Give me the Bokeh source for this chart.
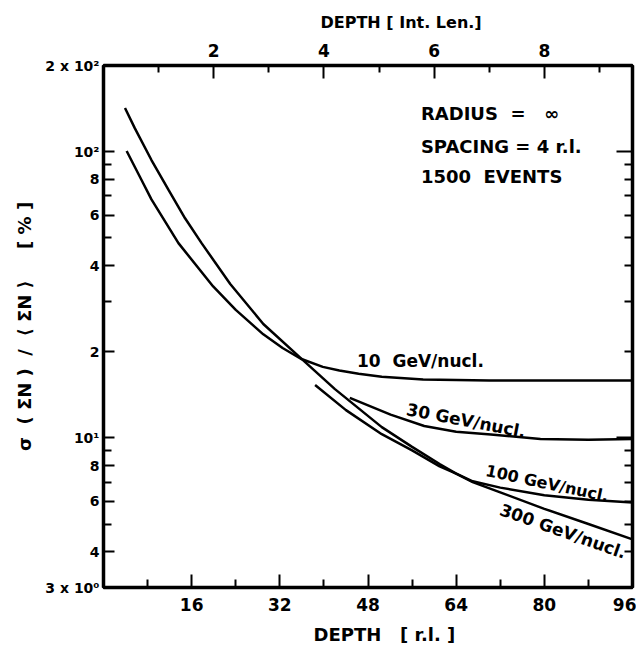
from bokeh.plotting import figure
from bokeh.models import Range1d, LogAxis, LinearAxis, FixedTicker, Label, Title
from bokeh.embed import file_html
from bokeh.resources import INLINE

# ---- data ----
depth_10 = [4.2, 6.9, 8.7, 13.6, 19.9, 24, 29, 32.5, 35.8, 39.8, 42.8, 46.3, 50.5, 58, 70, 96]
sigma_10 = [100.5, 79.6, 68.1, 47.9, 33.8, 28.0, 23.0, 20.6, 18.9, 17.7, 17.2, 16.75, 16.35, 16.0, 15.85, 15.85]

depth_30 = [44.7, 52.1, 58.2, 64, 70.3, 79.3, 88, 96]
sigma_30 = [13.8, 12.06, 11.0, 10.5, 10.27, 9.9, 9.85, 9.9]

depth_100 = [38.4, 44, 50.5, 56, 61, 64, 67, 72, 80, 88, 96]
sigma_100 = [15.3, 12.5, 10.3, 9.04, 7.95, 7.5, 7.05, 6.7, 6.3, 6.08, 5.94]

depth_300 = [3.9, 5.7, 8.7, 11.8, 14.8, 17.8, 23, 29, 35.8, 42, 50.5, 56, 61, 64, 67, 72, 80, 88, 96]
sigma_300 = [142, 120.6, 93.5, 73.5, 58.5, 47.9, 34.5, 25.0, 19.0, 14.8, 10.9, 9.3, 8.1, 7.5, 7.0, 6.45, 5.65, 5.0, 4.42]

x_ticks = [16, 32, 48, 64, 80, 96]
x_minor = [8, 24, 40, 56, 72, 88]
il_ticks = [2, 4, 6, 8]
il_minor = [1, 3, 5, 7, 9]
y_ticks = [3, 4, 6, 8, 10, 20, 40, 60, 80, 100, 200]
y_minor = [5, 7, 9, 30, 50, 70, 90]
y_labels = {3: "3 x 10⁰", 4: "4", 6: "6", 8: "8", 10: "10¹", 20: "2",
            40: "4", 60: "6", 80: "8", 100: "10²", 200: "2 x 10²"}

FONT = "DejaVu Sans"
S = "\u00a0"

p = figure(width=636, height=652, x_range=Range1d(0, 96), y_range=Range1d(3, 200),
           y_axis_type="log", output_backend="svg", toolbar_location=None,
           min_border_left=103, min_border_top=65, min_border_bottom=64, min_border_right=4)
p.xgrid.visible = False
p.ygrid.visible = False
p.outline_line_color = "black"
p.outline_line_width = 3
p.background_fill_color = "white"
p.border_fill_color = "white"

def style_axis(ax, size="17px"):
    ax.axis_line_width = 3.5
    ax.axis_line_color = "black"
    ax.major_tick_out = 0
    ax.minor_tick_out = 0
    ax.major_tick_line_width = 2
    ax.minor_tick_line_width = 2
    ax.major_label_text_font = FONT
    ax.major_label_text_font_style = "bold"
    ax.major_label_text_font_size = size
    ax.major_label_text_color = "black"

xa = p.xaxis[0]
xa.ticker = FixedTicker(ticks=x_ticks, minor_ticks=x_minor)
style_axis(xa)
xa.major_tick_in = 13
xa.minor_tick_in = 8
xa.major_label_standoff = 10

ya = p.yaxis[0]
ya.ticker = FixedTicker(ticks=y_ticks, minor_ticks=y_minor)
ya.major_label_overrides = y_labels
style_axis(ya, "14px")
ya.major_tick_in = 11
ya.minor_tick_in = 8
ya.major_label_standoff = 4
ya.axis_label = f"σ{S}{S}({S}ΣN{S}){S}{S}/{S}{S}⟨{S}ΣN{S}⟩{S}{S}{S}{S}{S}[{S}%{S}]"
ya.axis_label_text_font = FONT
ya.axis_label_text_font_style = "bold"
ya.axis_label_text_font_size = "18px"
ya.axis_label_text_color = "black"
ya.axis_label_standoff = 7

p.extra_x_ranges = {"il": Range1d(0, 9.6)}
top = LinearAxis(x_range_name="il", ticker=FixedTicker(ticks=il_ticks, minor_ticks=il_minor))
style_axis(top)
top.major_tick_in = 13
top.minor_tick_in = 7
top.major_label_standoff = 9
p.add_layout(top, "above")

right = LogAxis(ticker=FixedTicker(ticks=[10, 100], minor_ticks=[3, 4, 5, 6, 7, 8, 9, 20, 30, 40, 50, 60, 70, 80, 90, 200]))
style_axis(right, "1px")
right.major_label_overrides = {10: "", 100: ""}
right.major_tick_in = 16
right.minor_tick_in = 8
right.major_label_standoff = 0
p.add_layout(right, "right")

p.add_layout(Title(text="DEPTH [ Int. Len.]", align="left", offset=217, text_font=FONT,
                   text_font_style="bold", text_font_size="16px", text_color="black",
                   standoff=17), "above")
p.add_layout(Title(text=f"DEPTH{S}{S}{S}[{S}r.l.{S}]", align="left", offset=210, text_font=FONT,
                   text_font_style="bold", text_font_size="18px", text_color="black",
                   standoff=16), "below")

for xs, ys in [(depth_10, sigma_10), (depth_30, sigma_30), (depth_100, sigma_100), (depth_300, sigma_300)]:
    p.line(xs, ys, line_color="black", line_width=2.5)

def lab(x, y, text, angle=0.0, align="left", size="17px"):
    p.add_layout(Label(x=x, y=y, text=text, angle=angle, text_align=align, text_baseline="middle",
                       text_font=FONT, text_font_style="bold", text_font_size=size, text_color="black"))

lab(57.6, 136, f"RADIUS{S}{S}={S}{S}{S}∞", size="18px")
lab(57.6, 104, "SPACING = 4 r.l.", size="18px")
lab(57.6, 82, f"1500{S}{S}EVENTS", size="18px")
lab(46, 18.6, f"10{S}{S}GeV/nucl.")
lab(65.8, 11.5, "30 GeV/nucl.", angle=-0.19, align="center")
lab(80.5, 6.93, "100 GeV/nucl.", angle=-0.21, align="center", size="16px")
lab(83.4, 4.72, "300 GeV/nucl.", angle=-0.34, align="center")

open("out.html", "w").write(file_html(p, INLINE))
